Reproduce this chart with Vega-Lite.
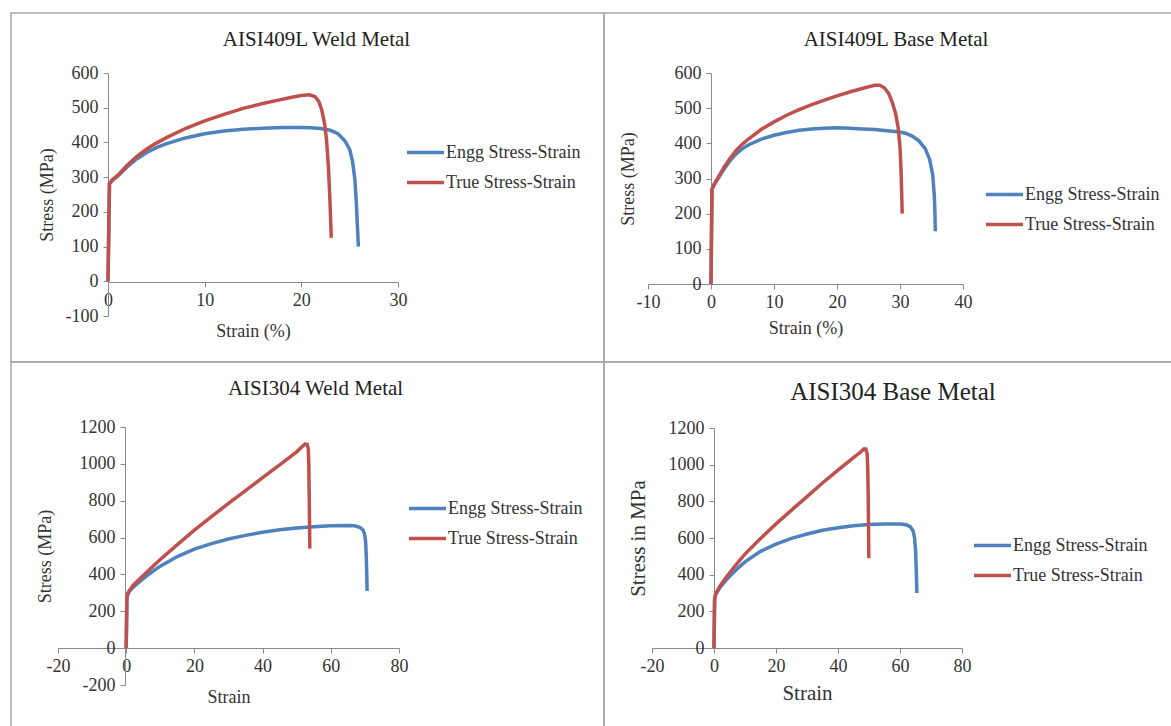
{
  "$schema": "https://vega.github.io/schema/vega-lite/v6.json",
  "background": "white",
  "padding": {"left": 10, "top": 12, "right": 0, "bottom": 0},
  "config": {
    "font": "Liberation Serif",
    "view": {"stroke": "#a8a8a8", "strokeWidth": 1.5},
    "axis": {"grid": false, "domainColor": "#8a8a8a", "tickColor": "#8a8a8a", "tickSize": 5, "labelPadding": 4,
      "labelFont": "Liberation Serif", "labelFontSize": 18, "labelColor": "#333333", "labelExpr": "datum.value + ''",
      "titleFont": "Liberation Serif", "titleFontSize": 18, "titleFontWeight": "normal", "titleColor": "#333333",
      "labelFlush": false, "labelOverlap": false, "labelBound": false},
    "legend": {"symbolType": "stroke", "symbolSize": 1369, "symbolStrokeWidth": 3.5, "labelFont": "Liberation Serif",
      "labelFontSize": 18, "labelColor": "#333333", "labelOffset": 0, "rowPadding": -5, "padding": 0, "title": null},
    "title": {"font": "Liberation Serif", "fontSize": 21, "fontWeight": "normal", "color": "#222222", "anchor": "middle", "frame": "group", "offset": 0},
    "line": {"strokeWidth": 3.5}
  },
  "resolve": {"scale": {"color": "independent"}, "legend": {"color": "independent"}},
  "columns": 2,
  "align": "each",
  "bounds": "flush",
  "spacing": 0,
  "concat": [
    {
      "width": 593, "height": 349,
      "title": {"text": "AISI409L Weld Metal", "dx": 9, "dy": 41},
      "data": {"name": "w409"},
      "mark": {"type": "line", "strokeWidth": 3.5},
      "encoding": {
        "x": {"field": "strain", "type": "quantitative", "scale": {"domain": [0, 30], "range": [97, 387], "nice": false, "zero": false},
          "axis": {"title": "Strain (%)", "values": [0, 10, 20, 30], "offset": -80, "titlePadding": 13}},
        "y": {"field": "stress", "type": "quantitative", "scale": {"domain": [-100, 600], "range": [303, 60], "nice": false, "zero": false},
          "axis": {"title": "Stress  (MPa)", "values": [-100, 0, 100, 200, 300, 400, 500, 600], "offset": -97, "labelPadding": 5, "titlePadding": 9}},
        "color": {"field": "series", "type": "nominal",
          "scale": {"domain": ["Engg Stress-Strain", "True Stress-Strain"], "range": ["#4f81bd", "#c0504d"]},
          "legend": {"orient": "none", "legendX": 394, "legendY": 119}}
      }
    },
    {
      "width": 572, "height": 349,
      "title": {"text": "AISI409L Base Metal", "dx": 6, "dy": 41},
      "data": {"name": "b409"},
      "mark": {"type": "line", "strokeWidth": 3.5},
      "encoding": {
        "x": {"field": "strain", "type": "quantitative", "scale": {"domain": [-10, 40], "range": [44, 359], "nice": false, "zero": false},
          "axis": {"title": "Strain (%)", "values": [-10, 0, 10, 20, 30, 40], "offset": -78, "titlePadding": 8}},
        "y": {"field": "stress", "type": "quantitative", "scale": {"domain": [0, 600], "range": [271, 60], "nice": false, "zero": false},
          "axis": {"title": "Stress (MPa)", "values": [0, 100, 200, 300, 400, 500, 600], "offset": -107, "labelPadding": 5, "titlePadding": 37}},
        "color": {"field": "series", "type": "nominal",
          "scale": {"domain": ["Engg Stress-Strain", "True Stress-Strain"], "range": ["#4f81bd", "#c0504d"]},
          "legend": {"orient": "none", "legendX": 380, "legendY": 161}}
      }
    },
    {
      "width": 593, "height": 368,
      "title": {"text": "AISI304 Weld Metal", "dx": 8, "dy": 41},
      "data": {"name": "w304"},
      "mark": {"type": "line", "strokeWidth": 3.5},
      "encoding": {
        "x": {"field": "strain", "type": "quantitative", "scale": {"domain": [-20, 80], "range": [47, 388], "nice": false, "zero": false},
          "axis": {"title": "Strain", "values": [-20, 0, 20, 40, 60, 80], "offset": -82, "titlePadding": 13}},
        "y": {"field": "stress", "type": "quantitative", "scale": {"domain": [-200, 1200], "range": [323, 65], "nice": false, "zero": false},
          "axis": {"title": "Stress (MPa)", "values": [-200, 0, 200, 400, 600, 800, 1000, 1200], "offset": -114, "labelPadding": 5, "titlePadding": 25}},
        "color": {"field": "series", "type": "nominal",
          "scale": {"domain": ["Engg Stress-Strain", "True Stress-Strain"], "range": ["#4f81bd", "#c0504d"]},
          "legend": {"orient": "none", "legendX": 396, "legendY": 126}}
      }
    },
    {
      "width": 572, "height": 368,
      "title": {"text": "AISI304 Base Metal", "dx": 3, "dy": 47, "fontSize": 25},
      "data": {"name": "b304"},
      "mark": {"type": "line", "strokeWidth": 3.5},
      "encoding": {
        "x": {"field": "strain", "type": "quantitative", "scale": {"domain": [-20, 80], "range": [48, 358], "nice": false, "zero": false},
          "axis": {"title": "Strain", "values": [-20, 0, 20, 40, 60, 80], "offset": -82, "titlePadding": 7, "titleFontSize": 21}},
        "y": {"field": "stress", "type": "quantitative", "scale": {"domain": [0, 1200], "range": [286, 66], "nice": false, "zero": false},
          "axis": {"title": "Stress in MPa", "values": [0, 200, 400, 600, 800, 1000, 1200], "offset": -110, "labelPadding": 5, "titlePadding": 20, "titleFontSize": 21}},
        "color": {"field": "series", "type": "nominal",
          "scale": {"domain": ["Engg Stress-Strain", "True Stress-Strain"], "range": ["#4f81bd", "#c0504d"]},
          "legend": {"orient": "none", "legendX": 368, "legendY": 163}}
      }
    }
  ],
  "datasets": {
    "w409": [
      {"series": "Engg Stress-Strain", "strain": 0, "stress": 0},
      {"series": "Engg Stress-Strain", "strain": 0.15, "stress": 280},
      {"series": "Engg Stress-Strain", "strain": 0.5, "stress": 292},
      {"series": "Engg Stress-Strain", "strain": 1, "stress": 303},
      {"series": "Engg Stress-Strain", "strain": 2, "stress": 330},
      {"series": "Engg Stress-Strain", "strain": 3, "stress": 353},
      {"series": "Engg Stress-Strain", "strain": 4, "stress": 371},
      {"series": "Engg Stress-Strain", "strain": 5, "stress": 385},
      {"series": "Engg Stress-Strain", "strain": 6, "stress": 396},
      {"series": "Engg Stress-Strain", "strain": 8, "stress": 413},
      {"series": "Engg Stress-Strain", "strain": 10, "stress": 425},
      {"series": "Engg Stress-Strain", "strain": 12, "stress": 433},
      {"series": "Engg Stress-Strain", "strain": 14, "stress": 438},
      {"series": "Engg Stress-Strain", "strain": 16, "stress": 441},
      {"series": "Engg Stress-Strain", "strain": 18, "stress": 443},
      {"series": "Engg Stress-Strain", "strain": 20, "stress": 443},
      {"series": "Engg Stress-Strain", "strain": 21, "stress": 442},
      {"series": "Engg Stress-Strain", "strain": 22, "stress": 440},
      {"series": "Engg Stress-Strain", "strain": 23, "stress": 435},
      {"series": "Engg Stress-Strain", "strain": 23.8, "stress": 425},
      {"series": "Engg Stress-Strain", "strain": 24.5, "stress": 405},
      {"series": "Engg Stress-Strain", "strain": 25, "stress": 380},
      {"series": "Engg Stress-Strain", "strain": 25.3, "stress": 345},
      {"series": "Engg Stress-Strain", "strain": 25.55, "stress": 290},
      {"series": "Engg Stress-Strain", "strain": 25.7, "stress": 220},
      {"series": "Engg Stress-Strain", "strain": 25.8, "stress": 160},
      {"series": "Engg Stress-Strain", "strain": 25.9, "stress": 100},
      {"series": "True Stress-Strain", "strain": 0, "stress": 0},
      {"series": "True Stress-Strain", "strain": 0.15, "stress": 282},
      {"series": "True Stress-Strain", "strain": 0.5, "stress": 294},
      {"series": "True Stress-Strain", "strain": 1, "stress": 305},
      {"series": "True Stress-Strain", "strain": 2, "stress": 335},
      {"series": "True Stress-Strain", "strain": 3, "stress": 360},
      {"series": "True Stress-Strain", "strain": 4, "stress": 381},
      {"series": "True Stress-Strain", "strain": 5, "stress": 398},
      {"series": "True Stress-Strain", "strain": 6, "stress": 413},
      {"series": "True Stress-Strain", "strain": 8, "stress": 440},
      {"series": "True Stress-Strain", "strain": 10, "stress": 462},
      {"series": "True Stress-Strain", "strain": 12, "stress": 481},
      {"series": "True Stress-Strain", "strain": 14, "stress": 498},
      {"series": "True Stress-Strain", "strain": 16, "stress": 512},
      {"series": "True Stress-Strain", "strain": 18, "stress": 524},
      {"series": "True Stress-Strain", "strain": 19, "stress": 530},
      {"series": "True Stress-Strain", "strain": 20, "stress": 535},
      {"series": "True Stress-Strain", "strain": 20.8, "stress": 537},
      {"series": "True Stress-Strain", "strain": 21.4, "stress": 532},
      {"series": "True Stress-Strain", "strain": 21.8, "stress": 518},
      {"series": "True Stress-Strain", "strain": 22.1, "stress": 495},
      {"series": "True Stress-Strain", "strain": 22.4, "stress": 455},
      {"series": "True Stress-Strain", "strain": 22.6, "stress": 410},
      {"series": "True Stress-Strain", "strain": 22.8, "stress": 330},
      {"series": "True Stress-Strain", "strain": 22.95, "stress": 240},
      {"series": "True Stress-Strain", "strain": 23.1, "stress": 125}
    ],
    "b409": [
      {"series": "Engg Stress-Strain", "strain": 0, "stress": 0},
      {"series": "Engg Stress-Strain", "strain": 0.15, "stress": 268},
      {"series": "Engg Stress-Strain", "strain": 0.5, "stress": 282},
      {"series": "Engg Stress-Strain", "strain": 1, "stress": 296},
      {"series": "Engg Stress-Strain", "strain": 2, "stress": 325},
      {"series": "Engg Stress-Strain", "strain": 3, "stress": 350},
      {"series": "Engg Stress-Strain", "strain": 4, "stress": 370},
      {"series": "Engg Stress-Strain", "strain": 5, "stress": 385},
      {"series": "Engg Stress-Strain", "strain": 6, "stress": 396},
      {"series": "Engg Stress-Strain", "strain": 8, "stress": 412},
      {"series": "Engg Stress-Strain", "strain": 10, "stress": 423},
      {"series": "Engg Stress-Strain", "strain": 12, "stress": 431},
      {"series": "Engg Stress-Strain", "strain": 14, "stress": 437},
      {"series": "Engg Stress-Strain", "strain": 16, "stress": 441},
      {"series": "Engg Stress-Strain", "strain": 18, "stress": 443},
      {"series": "Engg Stress-Strain", "strain": 20, "stress": 444},
      {"series": "Engg Stress-Strain", "strain": 22, "stress": 443},
      {"series": "Engg Stress-Strain", "strain": 24, "stress": 441},
      {"series": "Engg Stress-Strain", "strain": 26, "stress": 439},
      {"series": "Engg Stress-Strain", "strain": 28, "stress": 436},
      {"series": "Engg Stress-Strain", "strain": 30, "stress": 432},
      {"series": "Engg Stress-Strain", "strain": 31, "stress": 428},
      {"series": "Engg Stress-Strain", "strain": 32, "stress": 420},
      {"series": "Engg Stress-Strain", "strain": 33, "stress": 407},
      {"series": "Engg Stress-Strain", "strain": 34, "stress": 385},
      {"series": "Engg Stress-Strain", "strain": 34.7, "stress": 355},
      {"series": "Engg Stress-Strain", "strain": 35.2, "stress": 310},
      {"series": "Engg Stress-Strain", "strain": 35.45, "stress": 250},
      {"series": "Engg Stress-Strain", "strain": 35.55, "stress": 200},
      {"series": "Engg Stress-Strain", "strain": 35.6, "stress": 150},
      {"series": "True Stress-Strain", "strain": 0, "stress": 0},
      {"series": "True Stress-Strain", "strain": 0.15, "stress": 270},
      {"series": "True Stress-Strain", "strain": 0.5, "stress": 284},
      {"series": "True Stress-Strain", "strain": 1, "stress": 299},
      {"series": "True Stress-Strain", "strain": 2, "stress": 330},
      {"series": "True Stress-Strain", "strain": 3, "stress": 357},
      {"series": "True Stress-Strain", "strain": 4, "stress": 380},
      {"series": "True Stress-Strain", "strain": 5, "stress": 398},
      {"series": "True Stress-Strain", "strain": 6, "stress": 413},
      {"series": "True Stress-Strain", "strain": 8, "stress": 440},
      {"series": "True Stress-Strain", "strain": 10, "stress": 461},
      {"series": "True Stress-Strain", "strain": 12, "stress": 480},
      {"series": "True Stress-Strain", "strain": 14, "stress": 496},
      {"series": "True Stress-Strain", "strain": 16, "stress": 510},
      {"series": "True Stress-Strain", "strain": 18, "stress": 523},
      {"series": "True Stress-Strain", "strain": 20, "stress": 535},
      {"series": "True Stress-Strain", "strain": 22, "stress": 546},
      {"series": "True Stress-Strain", "strain": 24, "stress": 556},
      {"series": "True Stress-Strain", "strain": 25, "stress": 561},
      {"series": "True Stress-Strain", "strain": 26, "stress": 565},
      {"series": "True Stress-Strain", "strain": 26.8, "stress": 565},
      {"series": "True Stress-Strain", "strain": 27.5, "stress": 558},
      {"series": "True Stress-Strain", "strain": 28.2, "stress": 542},
      {"series": "True Stress-Strain", "strain": 28.8, "stress": 515},
      {"series": "True Stress-Strain", "strain": 29.3, "stress": 485},
      {"series": "True Stress-Strain", "strain": 29.7, "stress": 445},
      {"series": "True Stress-Strain", "strain": 30, "stress": 390},
      {"series": "True Stress-Strain", "strain": 30.15, "stress": 330},
      {"series": "True Stress-Strain", "strain": 30.25, "stress": 270},
      {"series": "True Stress-Strain", "strain": 30.35, "stress": 200}
    ],
    "w304": [
      {"series": "Engg Stress-Strain", "strain": 0, "stress": 0},
      {"series": "Engg Stress-Strain", "strain": 0.2, "stress": 270},
      {"series": "Engg Stress-Strain", "strain": 0.5, "stress": 295},
      {"series": "Engg Stress-Strain", "strain": 1, "stress": 310},
      {"series": "Engg Stress-Strain", "strain": 2, "stress": 330},
      {"series": "Engg Stress-Strain", "strain": 4, "stress": 362},
      {"series": "Engg Stress-Strain", "strain": 6, "stress": 392},
      {"series": "Engg Stress-Strain", "strain": 8, "stress": 420},
      {"series": "Engg Stress-Strain", "strain": 10, "stress": 445},
      {"series": "Engg Stress-Strain", "strain": 15, "stress": 497},
      {"series": "Engg Stress-Strain", "strain": 20, "stress": 537},
      {"series": "Engg Stress-Strain", "strain": 25, "stress": 567},
      {"series": "Engg Stress-Strain", "strain": 30, "stress": 592},
      {"series": "Engg Stress-Strain", "strain": 35, "stress": 612},
      {"series": "Engg Stress-Strain", "strain": 40, "stress": 629},
      {"series": "Engg Stress-Strain", "strain": 45, "stress": 642},
      {"series": "Engg Stress-Strain", "strain": 50, "stress": 652},
      {"series": "Engg Stress-Strain", "strain": 55, "stress": 659},
      {"series": "Engg Stress-Strain", "strain": 60, "stress": 664},
      {"series": "Engg Stress-Strain", "strain": 65, "stress": 666},
      {"series": "Engg Stress-Strain", "strain": 67, "stress": 664},
      {"series": "Engg Stress-Strain", "strain": 68.5, "stress": 656},
      {"series": "Engg Stress-Strain", "strain": 69.4, "stress": 642},
      {"series": "Engg Stress-Strain", "strain": 69.9, "stress": 620},
      {"series": "Engg Stress-Strain", "strain": 70.2, "stress": 580},
      {"series": "Engg Stress-Strain", "strain": 70.4, "stress": 500},
      {"series": "Engg Stress-Strain", "strain": 70.55, "stress": 400},
      {"series": "Engg Stress-Strain", "strain": 70.65, "stress": 310},
      {"series": "True Stress-Strain", "strain": 0, "stress": 0},
      {"series": "True Stress-Strain", "strain": 0.2, "stress": 275},
      {"series": "True Stress-Strain", "strain": 0.5, "stress": 298},
      {"series": "True Stress-Strain", "strain": 1, "stress": 315},
      {"series": "True Stress-Strain", "strain": 2, "stress": 340},
      {"series": "True Stress-Strain", "strain": 4, "stress": 377},
      {"series": "True Stress-Strain", "strain": 6, "stress": 412},
      {"series": "True Stress-Strain", "strain": 8, "stress": 447},
      {"series": "True Stress-Strain", "strain": 10, "stress": 481},
      {"series": "True Stress-Strain", "strain": 15, "stress": 562},
      {"series": "True Stress-Strain", "strain": 20, "stress": 640},
      {"series": "True Stress-Strain", "strain": 25, "stress": 714},
      {"series": "True Stress-Strain", "strain": 30, "stress": 785},
      {"series": "True Stress-Strain", "strain": 35, "stress": 855},
      {"series": "True Stress-Strain", "strain": 40, "stress": 925},
      {"series": "True Stress-Strain", "strain": 45, "stress": 995},
      {"series": "True Stress-Strain", "strain": 50, "stress": 1065},
      {"series": "True Stress-Strain", "strain": 51.5, "stress": 1092},
      {"series": "True Stress-Strain", "strain": 52.5, "stress": 1108},
      {"series": "True Stress-Strain", "strain": 53.1, "stress": 1105},
      {"series": "True Stress-Strain", "strain": 53.4, "stress": 1080},
      {"series": "True Stress-Strain", "strain": 53.55, "stress": 1000},
      {"series": "True Stress-Strain", "strain": 53.65, "stress": 850},
      {"series": "True Stress-Strain", "strain": 53.75, "stress": 700},
      {"series": "True Stress-Strain", "strain": 53.85, "stress": 540}
    ],
    "b304": [
      {"series": "Engg Stress-Strain", "strain": 0, "stress": 0},
      {"series": "Engg Stress-Strain", "strain": 0.2, "stress": 265},
      {"series": "Engg Stress-Strain", "strain": 0.5, "stress": 290},
      {"series": "Engg Stress-Strain", "strain": 1, "stress": 305},
      {"series": "Engg Stress-Strain", "strain": 2, "stress": 332},
      {"series": "Engg Stress-Strain", "strain": 4, "stress": 372},
      {"series": "Engg Stress-Strain", "strain": 6, "stress": 407},
      {"series": "Engg Stress-Strain", "strain": 8, "stress": 440},
      {"series": "Engg Stress-Strain", "strain": 10, "stress": 470},
      {"series": "Engg Stress-Strain", "strain": 15, "stress": 527},
      {"series": "Engg Stress-Strain", "strain": 20, "stress": 567},
      {"series": "Engg Stress-Strain", "strain": 25, "stress": 598},
      {"series": "Engg Stress-Strain", "strain": 30, "stress": 622},
      {"series": "Engg Stress-Strain", "strain": 35, "stress": 642},
      {"series": "Engg Stress-Strain", "strain": 40, "stress": 656},
      {"series": "Engg Stress-Strain", "strain": 45, "stress": 667},
      {"series": "Engg Stress-Strain", "strain": 50, "stress": 673},
      {"series": "Engg Stress-Strain", "strain": 55, "stress": 676},
      {"series": "Engg Stress-Strain", "strain": 60, "stress": 676},
      {"series": "Engg Stress-Strain", "strain": 62, "stress": 672},
      {"series": "Engg Stress-Strain", "strain": 63.3, "stress": 662},
      {"series": "Engg Stress-Strain", "strain": 64.2, "stress": 640},
      {"series": "Engg Stress-Strain", "strain": 64.7, "stress": 600},
      {"series": "Engg Stress-Strain", "strain": 65, "stress": 540},
      {"series": "Engg Stress-Strain", "strain": 65.2, "stress": 450},
      {"series": "Engg Stress-Strain", "strain": 65.35, "stress": 370},
      {"series": "Engg Stress-Strain", "strain": 65.45, "stress": 300},
      {"series": "True Stress-Strain", "strain": 0, "stress": 0},
      {"series": "True Stress-Strain", "strain": 0.2, "stress": 270},
      {"series": "True Stress-Strain", "strain": 0.5, "stress": 293},
      {"series": "True Stress-Strain", "strain": 1, "stress": 310},
      {"series": "True Stress-Strain", "strain": 2, "stress": 340},
      {"series": "True Stress-Strain", "strain": 4, "stress": 387},
      {"series": "True Stress-Strain", "strain": 6, "stress": 431},
      {"series": "True Stress-Strain", "strain": 8, "stress": 472},
      {"series": "True Stress-Strain", "strain": 10, "stress": 512},
      {"series": "True Stress-Strain", "strain": 15, "stress": 597},
      {"series": "True Stress-Strain", "strain": 20, "stress": 677},
      {"series": "True Stress-Strain", "strain": 25, "stress": 752},
      {"series": "True Stress-Strain", "strain": 30, "stress": 826},
      {"series": "True Stress-Strain", "strain": 35, "stress": 900},
      {"series": "True Stress-Strain", "strain": 40, "stress": 970},
      {"series": "True Stress-Strain", "strain": 45, "stress": 1038},
      {"series": "True Stress-Strain", "strain": 47, "stress": 1065},
      {"series": "True Stress-Strain", "strain": 48.3, "stress": 1085},
      {"series": "True Stress-Strain", "strain": 49, "stress": 1085},
      {"series": "True Stress-Strain", "strain": 49.4, "stress": 1060},
      {"series": "True Stress-Strain", "strain": 49.6, "stress": 980},
      {"series": "True Stress-Strain", "strain": 49.75, "stress": 820},
      {"series": "True Stress-Strain", "strain": 49.85, "stress": 650},
      {"series": "True Stress-Strain", "strain": 49.95, "stress": 490}
    ]
  }
}
